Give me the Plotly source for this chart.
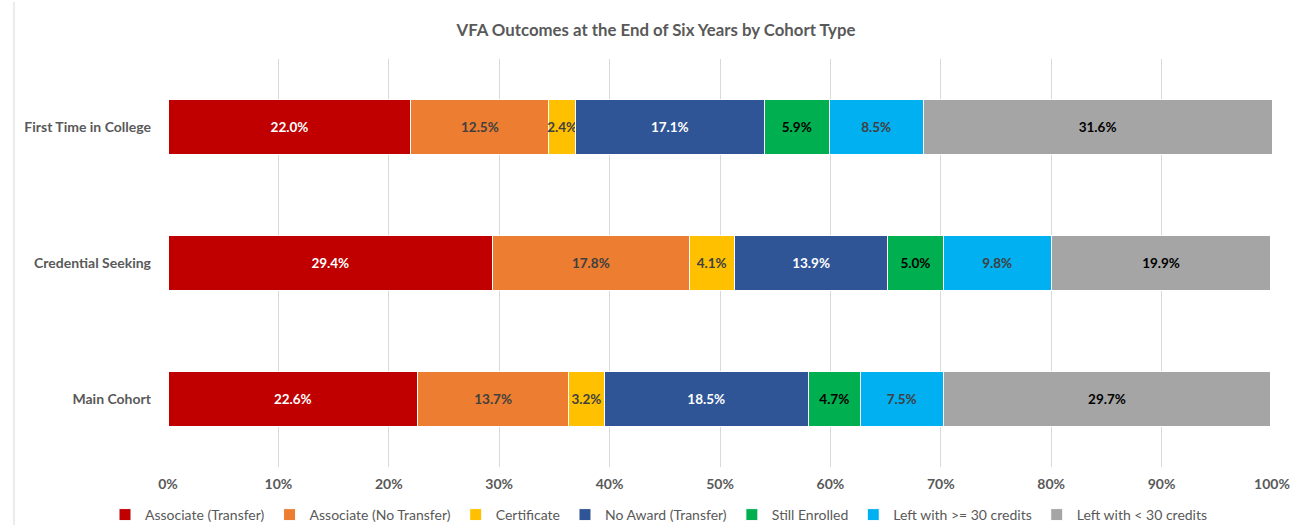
import plotly.graph_objects as go

# cohorts listed bottom to top as drawn
cohorts = ["Main Cohort", "Credential Seeking", "First Time in College"]

outcomes = ["Associate (Transfer)", "Associate (No Transfer)", "Certificate",
            "No Award (Transfer)", "Still Enrolled", "Left with >= 30 credits",
            "Left with < 30 credits"]

assoc_transfer = [22.6, 29.4, 22.0]
assoc_no_transfer = [13.7, 17.8, 12.5]
certificate = [3.2, 4.1, 2.4]
no_award_transfer = [18.5, 13.9, 17.1]
still_enrolled = [4.7, 5.0, 5.9]
left_30_plus = [7.5, 9.8, 8.5]
left_under_30 = [29.7, 19.9, 31.6]

series = [assoc_transfer, assoc_no_transfer, certificate, no_award_transfer,
          still_enrolled, left_30_plus, left_under_30]

colors = ["#C00000", "#ED7D31", "#FFC000", "#2F5597", "#00B050", "#00B0F0", "#A5A5A5"]
label_colors = ["#FFFFFF", "#404040", "#404040", "#FFFFFF", "#000000", "#404040", "#000000"]

x_ticks = [0, 10, 20, 30, 40, 50, 60, 70, 80, 90, 100]
x_tick_text = [f"{v}%" for v in x_ticks]

FONT = "Lato, Calibri, 'Open Sans', sans-serif"

fig = go.Figure()
for name, vals, col, lcol in zip(outcomes, series, colors, label_colors):
    fig.add_trace(go.Bar(
        y=cohorts,
        x=vals,
        name=name,
        orientation="h",
        marker=dict(color=col, line=dict(color="white", width=1)),
        text=[f"<b>{v:.1f}%</b>" for v in vals],
        textposition="inside",
        insidetextanchor="middle",
        textangle=0,
        textfont=dict(color=lcol, size=13.5, family=FONT),
        constraintext="none",
        cliponaxis=False,
    ))

fig.update_layout(
    barmode="stack",
    bargap=0.6,
    width=1301,
    height=525,
    margin=dict(l=168, r=29, t=59, b=58, autoexpand=False),
    paper_bgcolor="white",
    plot_bgcolor="white",
    font=dict(family=FONT, color="#595959", size=14),
    uniformtext=dict(minsize=13, mode="show"),
    title=dict(
        text="<b>VFA Outcomes at the End of Six Years by Cohort Type</b>",
        x=656 / 1301, xref="container", xanchor="center",
        y=1 - 30 / 525, yref="container", yanchor="middle",
        font=dict(size=16.8, color="#595959", family=FONT),
    ),
    xaxis=dict(
        range=[0, 100],
        tickvals=x_ticks,
        ticktext=[f"<b>{t}</b>" for t in x_tick_text],
        showgrid=True,
        gridcolor="#D9D9D9",
        gridwidth=1,
        zeroline=False,
        showline=False,
        ticks="",
        automargin=False,
        ticklabelstandoff=7,
        tickfont=dict(size=14, color="#595959", family=FONT),
    ),
    yaxis=dict(
        range=[-0.5, 2.5],
        showgrid=False,
        zeroline=False,
        showline=False,
        ticks="",
        automargin=False,
        tickvals=cohorts,
        ticktext=[f"<b>{c}</b>" for c in cohorts],
        ticklabelstandoff=16,
        tickfont=dict(size=14, color="#595959", family=FONT),
    ),
    legend=dict(
        orientation="h",
        x=659 / 1301, xref="container", xanchor="center",
        y=10 / 525, yref="container", yanchor="middle",
        traceorder="normal",
        font=dict(size=14, color="#595959", family=FONT),
        itemwidth=30,
    ),
)

# chart border on the left side
fig.add_shape(type="line", xref="paper", yref="paper",
              x0=-0.1395, x1=-0.1395, y0=-0.2, y1=1.14,
              line=dict(color="#D9D9D9", width=1))

fig.write_html("out.html",
               config={"displayModeBar": False},
               post_script="document.body.style.margin='0';document.body.style.overflow='hidden';")
